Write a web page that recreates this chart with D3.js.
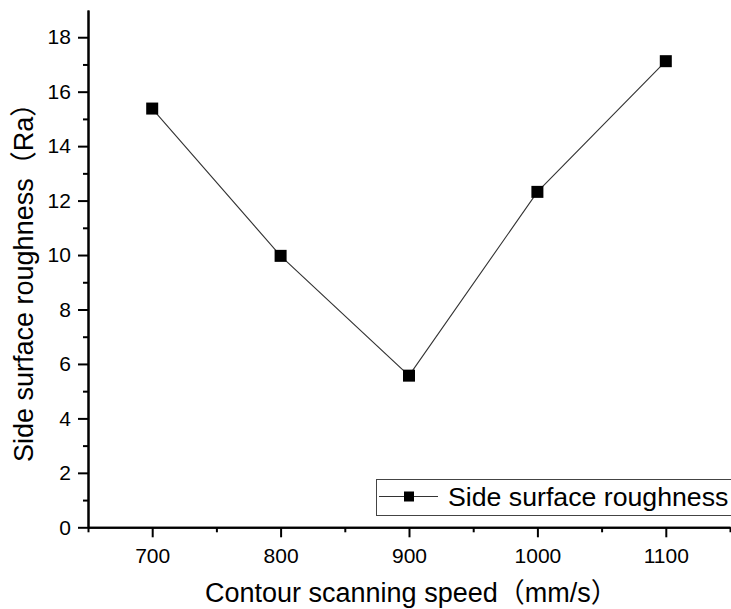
<!DOCTYPE html>
<html>
<head>
<meta charset="utf-8">
<script src="https://cdn.jsdelivr.net/npm/d3@7"></script>
<style>
  html, body { margin: 0; padding: 0; background: #fff; }
  svg { display: block; }
  text { font-family: "Liberation Sans", Arial, "Noto Sans CJK SC", sans-serif; fill: #000; }
</style>
</head>
<body>
<svg id="chart" width="731" height="609"></svg>
<script>
// Contour scanning speed vs. side surface roughness
const speeds = [700, 800, 900, 1000, 1100];
const roughness = [15.38, 9.97, 5.57, 12.32, 17.12];
const xTicks = [700, 800, 900, 1000, 1100];
const yTicks = [0, 2, 4, 6, 8, 10, 12, 14, 16, 18];
const seriesName = "Side surface roughness";
const xTitle = "Contour scanning speed（mm/s）";
const yTitle = "Side surface roughness（Ra）";

const svg = d3.select("#chart");
const plotLeft = 88, plotRight = 730, plotTop = 10, plotBottom = 527.3;

const x = d3.scaleLinear().domain([650, 1150]).range([plotLeft, plotRight]);
const y = d3.scaleLinear().domain([0, 19]).range([plotBottom, plotTop]);

// minor ticks
const xMinor = d3.range(650, 1151, 100);
const yMinor = d3.range(1, 19, 2);

const xAxis = svg.append("g").attr("transform", `translate(0,${plotBottom})`)
  .call(d3.axisBottom(x).tickValues(xTicks).tickFormat(d3.format("d")).tickSize(10).tickSizeOuter(0).tickPadding(6));
const xAxisMinor = svg.append("g").attr("transform", `translate(0,${plotBottom})`)
  .call(d3.axisBottom(x).tickValues(xMinor).tickFormat("").tickSize(5).tickSizeOuter(0));
const yAxis = svg.append("g").attr("transform", `translate(${plotLeft},0)`)
  .call(d3.axisLeft(y).tickValues(yTicks).tickSize(10).tickSizeOuter(0).tickPadding(6));
const yAxisMinor = svg.append("g").attr("transform", `translate(${plotLeft},0)`)
  .call(d3.axisLeft(y).tickValues(yMinor).tickFormat("").tickSize(5).tickSizeOuter(0));

[xAxis, xAxisMinor, yAxis, yAxisMinor].forEach(g => {
  g.selectAll("path").attr("stroke", "#000").attr("stroke-width", 2);
  g.selectAll("line").attr("stroke", "#000").attr("stroke-width", 2);
  g.selectAll("text").style("font-size", "21px").attr("fill", "#000");
});
xAxis.selectAll("text").attr("dy", "0.95em");
yAxis.selectAll("text").attr("dx", "-0.05em");

// data line
const line = d3.line().x((d, i) => x(speeds[i])).y(d => y(d));
svg.append("path").datum(roughness)
  .attr("d", line)
  .attr("fill", "none")
  .attr("stroke", "#333")
  .attr("stroke-width", 1.1);

// markers
const ms = 12;
svg.selectAll("rect.pt").data(roughness).enter().append("rect")
  .attr("class", "pt")
  .attr("x", (d, i) => x(speeds[i]) - ms / 2)
  .attr("y", d => y(d) - ms / 2)
  .attr("width", ms).attr("height", ms)
  .attr("fill", "#000");

// axis titles
svg.append("text")
  .attr("x", 205).attr("y", 602)
  .style("font-size", "27px")
  .text(xTitle);

svg.append("text")
  .attr("transform", "translate(33,462) rotate(-90)")
  .style("font-size", "27px")
  .text(yTitle);

// legend
const lg = svg.append("g");
lg.append("rect")
  .attr("x", 376.5).attr("y", 479.5).attr("width", 360).attr("height", 36)
  .attr("fill", "#fff").attr("stroke", "#444").attr("stroke-width", 1);
lg.append("line")
  .attr("x1", 379).attr("x2", 438).attr("y1", 496.5).attr("y2", 496.5)
  .attr("stroke", "#333").attr("stroke-width", 1.1);
lg.append("rect")
  .attr("x", 404).attr("y", 491.5).attr("width", 10).attr("height", 10)
  .attr("fill", "#000");
lg.append("text")
  .attr("x", 448).attr("y", 505.5)
  .style("font-size", "26.7px")
  .text(seriesName);
</script>
</body>
</html>
